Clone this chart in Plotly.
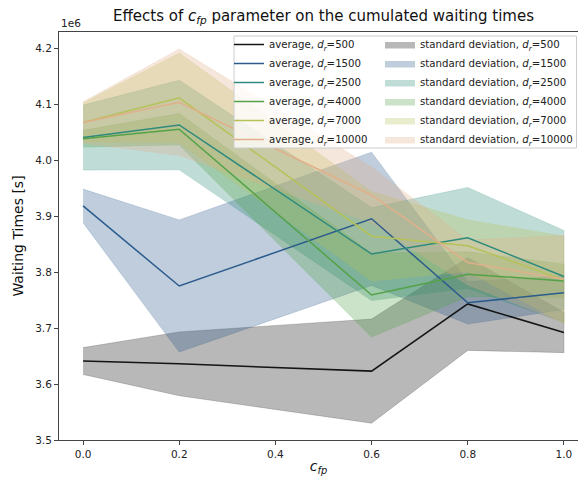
import plotly.graph_objects as go

# x values (c_fp)
c_fp = [0.0, 0.2, 0.6, 0.8, 1.0]
d_r = [500, 1500, 2500, 4000, 7000, 10000]

# cumulated waiting times, in units of 1e6 s
avg_500 = [3.641, 3.636, 3.623, 3.743, 3.692]
avg_1500 = [3.918, 3.775, 3.895, 3.745, 3.763]
avg_2500 = [4.040, 4.0625, 3.832, 3.861, 3.792]
avg_4000 = [4.038, 4.055, 3.759, 3.796, 3.784]
avg_7000 = [4.067, 4.111, 3.864, 3.847, 3.786]
avg_10000 = [4.067, 4.103, 3.9375, 3.817, 3.787]

std_500 = [0.024, 0.057, 0.093, 0.083, 0.036]
std_1500 = [0.030, 0.118, 0.119, 0.038, 0.030]
std_2500 = [0.058, 0.080, 0.083, 0.090, 0.082]
std_4000 = [0.015, 0.028, 0.075, 0.040, 0.030]
std_7000 = [0.035, 0.080, 0.080, 0.046, 0.078]
std_10000 = [0.037, 0.095, 0.050, 0.040, 0.078]

x_ticks = [0.0, 0.2, 0.4, 0.6, 0.8, 1.0]
y_ticks = [3.5, 3.6, 3.7, 3.8, 3.9, 4.0, 4.1, 4.2]

averages = [avg_500, avg_1500, avg_2500, avg_4000, avg_7000, avg_10000]
stds = [std_500, std_1500, std_2500, std_4000, std_7000, std_10000]
colors = [(20, 20, 20), (43, 91, 140), (46, 138, 124), (84, 162, 72), (182, 194, 88), (224, 176, 138)]

fig = go.Figure()

# standard deviation bands (drawn below the lines)
for d, a, s, c in zip(d_r, averages, stds, colors):
    upper = [m + e for m, e in zip(a, s)]
    lower = [m - e for m, e in zip(a, s)]
    fc = "rgba(%d,%d,%d,0.3)" % c
    fig.add_trace(go.Scatter(
        x=c_fp + c_fp[::-1], y=upper + lower[::-1],
        fill="toself", fillcolor=fc, mode="lines",
        line=dict(color=fc, width=0.6),
        name="standard deviation, <i>d<sub>r</sub></i>=%d" % d,
        legend="legend2", hoverinfo="skip"))

for d, a, c in zip(d_r, averages, colors):
    fig.add_trace(go.Scatter(
        x=c_fp, y=a, mode="lines",
        line=dict(color="rgb(%d,%d,%d)" % c, width=1.5),
        name="average, <i>d<sub>r</sub></i>=%d" % d,
        legend="legend"))

L, T, B = 59, 32, 41
W, H = 578, 481
pw = W - L
ph = H - T - B

def px(xp):
    return (xp - L) / pw

def py(yp):
    return (H - B - yp) / ph

legend_font = dict(family="DejaVu Sans", size=10.2, color="#222")

fig.update_layout(
    width=W, height=H,
    margin=dict(l=L, r=0, t=T, b=B, autoexpand=False),
    plot_bgcolor="white", paper_bgcolor="white",
    font=dict(family="DejaVu Sans", color="#222"),
    title=dict(text="Effects of <i>c<sub>fp</sub></i> parameter on the cumulated waiting times",
               x=323.5 / W, xanchor="center", y=1 - 16 / H, yanchor="middle",
               font=dict(family="DejaVu Sans", size=15, color="#111")),
    legend=dict(x=px(229), y=py(30), xanchor="left", yanchor="top",
                bgcolor="rgba(0,0,0,0)", borderwidth=0, font=legend_font,
                itemwidth=30, tracegroupgap=0),
    legend2=dict(x=px(380), y=py(30), xanchor="left", yanchor="top",
                 bgcolor="rgba(0,0,0,0)", borderwidth=0, font=legend_font,
                 itemwidth=30, tracegroupgap=0),
    showlegend=True,
    shapes=[dict(type="rect", xref="paper", yref="paper",
                 x0=px(234), x1=px(576.5), y0=py(148), y1=py(36),
                 fillcolor="rgba(255,255,255,0.8)", line=dict(color="#cccccc", width=1),
                 layer="above")],
    annotations=[dict(text="1e6", xref="paper", yref="paper", x=0, y=1, xanchor="left",
                      yanchor="bottom", yshift=1, showarrow=False,
                      font=dict(family="DejaVu Sans", size=10.5, color="#222"))],
)

fig.update_xaxes(range=[-0.05, 1.05 - (588 - 578) / 481.5],
                 tickvals=x_ticks, ticktext=["%.1f" % v for v in x_ticks],
                 ticks="outside", ticklen=4, tickcolor="#444",
                 showline=True, linecolor="#444", linewidth=1, mirror=True,
                 showgrid=False, zeroline=False,
                 tickfont=dict(family="DejaVu Sans", size=10.5, color="#222"),
                 title=dict(text="<i>c<sub>fp</sub></i>", standoff=2,
                            font=dict(family="DejaVu Sans", size=14, color="#111")))
fig.update_yaxes(range=[3.5, 3.5 + 408 / 560],
                 tickvals=y_ticks, ticktext=["%.1f" % v for v in y_ticks],
                 ticks="outside", ticklen=4, tickcolor="#444",
                 showline=True, linecolor="#444", linewidth=1,
                 showgrid=False, zeroline=False,
                 tickfont=dict(family="DejaVu Sans", size=10.5, color="#222"),
                 title=dict(text="Waiting Times [s]", standoff=8,
                            font=dict(family="DejaVu Sans", size=14, color="#111")))

fig.write_html("out.html")
